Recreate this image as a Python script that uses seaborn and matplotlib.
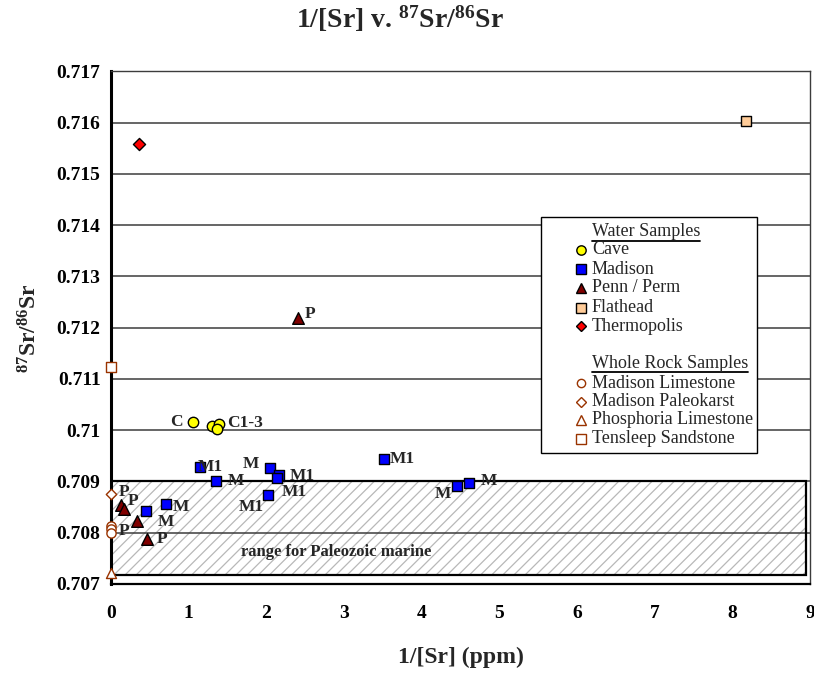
import matplotlib
matplotlib.use("Agg")
import matplotlib.pyplot as plt
import seaborn as sns
import pandas as pd
from matplotlib.patches import Rectangle
from matplotlib.lines import Line2D

# ---------------- data ----------------
# water samples
cave_x = [1.05, 1.30, 1.39, 1.37]
cave_y = [0.71016, 0.71009, 0.71013, 0.71002]
cave_labels = ["C", "", "C1-3", ""]

madison_x = [1.145, 1.355, 2.046, 2.166, 2.132, 2.017, 0.708, 0.45, 3.513, 4.457, 4.612]
madison_y = [0.70929, 0.70901, 0.70926, 0.709125, 0.70906, 0.70873,
             0.70856, 0.70843, 0.70943, 0.70892, 0.70897]
madison_labels = ["M1", "M", "M", "M1", "M1", "M1", "M", "M", "M1", "M", "M"]

penn_x = [2.403, 0.129, 0.171, 0.339, 0.467]
penn_y = [0.71218, 0.70854, 0.70846, 0.70823, 0.70788]
penn_labels = ["P", "P", "", "", "P"]

flathead_x = [8.168]
flathead_y = [0.71603]

thermo_x = [0.356]
thermo_y = [0.71558]

# whole rock samples
limestone_x = [0.0, 0.0, 0.0]
limestone_y = [0.70813, 0.70807, 0.70800]
limestone_labels = ["", "P", ""]

paleokarst_x = [0.0]
paleokarst_y = [0.70875]
paleokarst_labels = ["P"]

phosphoria_x = [0.0]
phosphoria_y = [0.70721]

tensleep_x = [0.0]
tensleep_y = [0.71124]

# Paleozoic marine band
marine_lo, marine_hi = 0.70717, 0.70900
marine_x_end = 8.95

x_ticks = list(range(0, 10))
y_ticks = [0.707, 0.708, 0.709, 0.710, 0.711, 0.712, 0.713, 0.714, 0.715, 0.716, 0.717]

# ---------------- style ----------------
sns.set_style("white")
plt.rcParams["font.family"] = ["Liberation Serif", "DejaVu Serif"]
plt.rcParams["mathtext.fontset"] = "custom"
plt.rcParams["mathtext.rm"] = "Liberation Serif:bold"
plt.rcParams["mathtext.bf"] = "Liberation Serif:bold"
plt.rcParams["mathtext.default"] = "bf"
plt.rcParams["hatch.linewidth"] = 0.9

W, H = 814, 673
fig = plt.figure(figsize=(W / 100, H / 100), dpi=100)
ax_l, ax_r, ax_b, ax_t = 111, 810.3, 584, 71.4
ax = fig.add_axes([ax_l / W, (H - ax_b) / H, (ax_r - ax_l) / W, (ax_b - ax_t) / H])

def px2fig(x, y):
    return x / W, (H - y) / H

BROWN = "#993300"
series = [
    # name, xs, ys, labels, marker, face, edge, size
    ("Cave", cave_x, cave_y, cave_labels, "o", "#FFFF00", "black", 56),
    ("Madison", madison_x, madison_y, madison_labels, "s", "#0000FF", "black", 56),
    ("Penn / Perm", penn_x, penn_y, penn_labels, "^", "#800000", "black", 70),
    ("Flathead", flathead_x, flathead_y, None, "s", "#FFCC99", "black", 60),
    ("Thermopolis", thermo_x, thermo_y, None, "D", "#FF0000", "black", 38),
    ("Madison Limestone", limestone_x, limestone_y, limestone_labels, "o", "white", BROWN, 44),
    ("Madison Paleokarst", paleokarst_x, paleokarst_y, paleokarst_labels, "D", "white", BROWN, 28),
    ("Phosphoria Limestone", phosphoria_x, phosphoria_y, None, "^", "white", BROWN, 52),
    ("Tensleep Sandstone", tensleep_x, tensleep_y, None, "s", "white", BROWN, 52),
]

# Paleozoic marine range band: light hatch fill plus black outline
ax.add_patch(Rectangle((0, marine_lo), marine_x_end, marine_hi - marine_lo,
                       facecolor="white", edgecolor="#b8b8b8", hatch="///",
                       linewidth=0, zorder=0.5))
ax.add_patch(Rectangle((0, marine_lo), marine_x_end, marine_hi - marine_lo,
                       facecolor="none", edgecolor="black", linewidth=1.6, zorder=1.5))
ax.text(2.9, 0.70762, "range for Paleozoic marine", fontsize=12, fontweight="bold",
        ha="center", va="center", zorder=2)

for name, xs, ys, labs, mk, fc, ec, s in series:
    df = pd.DataFrame({"x": xs, "y": ys})
    sns.scatterplot(data=df, x="x", y="y", marker=mk, s=s, color=fc,
                    edgecolor=ec, linewidth=1.0, ax=ax, zorder=5, clip_on=False,
                    legend=False)

# point annotations: (series, index) -> (ha, dx px, dy px)
label_pos = {
    ("Cave", 0): ("right", -10, 0),
    ("Cave", 2): ("left", 8, -1),
    ("Madison", 0): ("left", -2, 0),
    ("Madison", 1): ("left", 11, 0),
    ("Madison", 2): ("right", -11, -4),
    ("Madison", 3): ("left", 10, 1),
    ("Madison", 4): ("left", 5, 14),
    ("Madison", 5): ("right", -4, 12),
    ("Madison", 6): ("left", 7, 3),
    ("Madison", 7): ("left", 12, 11),
    ("Madison", 8): ("left", 6, 0),
    ("Madison", 9): ("right", -6, 8),
    ("Madison", 10): ("left", 11, -2),
    ("Penn / Perm", 0): ("left", 7, -4),
    ("Penn / Perm", 1): ("left", 7, -4),
    ("Penn / Perm", 4): ("left", 9, 0),
    ("Madison Limestone", 1): ("left", 8, 2),
    ("Madison Paleokarst", 0): ("left", 8, -2),
}
for name, xs, ys, labs, *_ in series:
    if not labs:
        continue
    for i, lab in enumerate(labs):
        if not lab:
            continue
        ha, dx, dy = label_pos[(name, i)]
        ax.annotate(lab, (xs[i], ys[i]), xytext=(dx * 0.72, -dy * 0.72),
                    textcoords="offset points", ha=ha, va="center",
                    fontsize=12.5, fontweight="bold", zorder=6)

# axes, grid, ticks
ax.set_xlim(0, 9)
ax.set_ylim(0.707, 0.717)
ax.set_xticks(x_ticks)
ax.set_yticks(y_ticks)
ax.set_xticklabels([str(t) for t in x_ticks])
ax.set_yticklabels([f"{t:.3f}".rstrip("0") for t in y_ticks])
for lab in ax.get_xticklabels() + ax.get_yticklabels():
    lab.set_fontweight("bold")
ax.tick_params(axis="both", direction="out", length=6, width=1.4,
               labelsize=14, colors="black")
ax.tick_params(axis="x", pad=9)
ax.tick_params(axis="y", pad=1.5)
ax.yaxis.grid(True, color="#3c3c3c", linewidth=1.1, zorder=0)
ax.xaxis.grid(False)
ax.set_axisbelow(True)
for side in ["top", "right"]:
    ax.spines[side].set_color("#3c3c3c")
    ax.spines[side].set_linewidth(1.0)
ax.spines["left"].set_linewidth(2.2)
ax.spines["left"].set_color("black")
ax.spines["bottom"].set_linewidth(1.6)
ax.spines["bottom"].set_color("black")

ax.set_xlabel("1/[Sr] (ppm)", fontsize=17, fontweight="bold")
ax.xaxis.label.set_va("center")
ax.xaxis.set_label_coords(0.5, (ax_b - 657) / (ax_b - ax_t))
ax.set_ylabel(r"$^{87}$Sr/$^{86}$Sr", fontsize=17, fontweight="bold")
ax.yaxis.set_label_coords((42 - ax_l) / (ax_r - ax_l), 0.5)
ax.set_title(r"1/[Sr] v. $^{87}$Sr/$^{86}$Sr", fontsize=20, fontweight="bold",
             x=(400 - ax_l) / (ax_r - ax_l), y=(ax_b - 36) / (ax_b - ax_t), va="baseline")

# ---------------- legend ----------------
leg_left, leg_top, leg_right, leg_bottom = 541, 217, 757, 453
x0, y0 = px2fig(leg_left, leg_bottom)
x1, y1 = px2fig(leg_right, leg_top)
fig.add_artist(Rectangle((x0, y0), x1 - x0, y1 - y0, transform=fig.transFigure,
                         facecolor="white", edgecolor="black", linewidth=1.0, zorder=8))
marker_x, text_x = 581, 592
headings = [("Water Samples", 232), ("Whole Rock Samples", 364)]
entries = [(s, yy) for s, yy in zip(series, [250, 269, 288, 307.5, 326, 383, 401.5, 420, 438.5])]
head_texts = []
for txt, yy in headings:
    fx, fy = px2fig(text_x, yy)
    head_texts.append(fig.text(fx, fy, txt, fontsize=13, ha="left", va="center", zorder=9))
for (name, xs, ys, labs, mk, fc, ec, s), yy in entries:
    fx, fy = px2fig(marker_x, yy)
    ms = (s ** 0.5) * 0.9
    fig.add_artist(Line2D([fx], [fy], transform=fig.transFigure, marker=mk, markersize=ms,
                          markerfacecolor=fc, markeredgecolor=ec, markeredgewidth=1.0,
                          linestyle="none", zorder=9))
    tx, ty = px2fig(text_x, yy)
    fig.text(tx, ty, name, fontsize=13, ha="left", va="center", zorder=9)

fig.canvas.draw()
for t, yy in zip(head_texts, [240.7, 372.3]):
    bb = t.get_window_extent()
    fy = (H - yy) / H
    fig.add_artist(Line2D([bb.x0 / W, bb.x1 / W], [fy, fy], transform=fig.transFigure,
                          color="black", linewidth=1.3, zorder=9))

fig.savefig("out.png", dpi=100, facecolor="white")
